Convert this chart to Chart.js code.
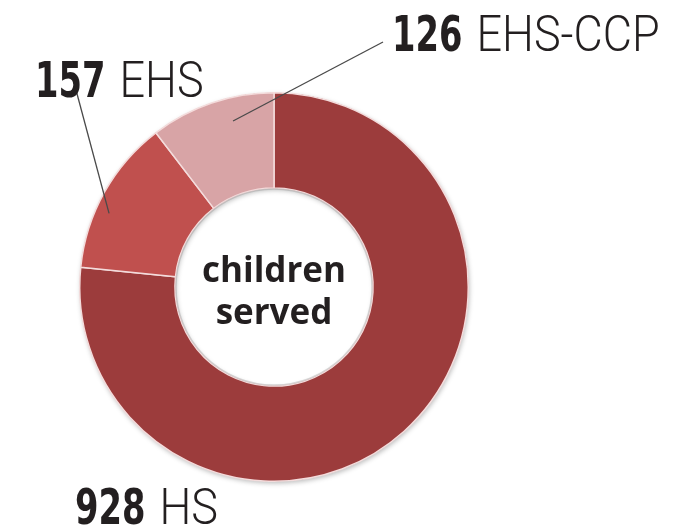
<!DOCTYPE html>
<html>
<head>
<meta charset="utf-8">
<script src="https://cdn.jsdelivr.net/npm/chart.js@4/dist/chart.umd.min.js"></script>
<style>
html,body{margin:0;padding:0;background:#fff;}
#wrap{width:692px;height:530px;position:relative;}
</style>
</head>
<body>
<div id="wrap"><canvas id="c" width="692" height="530"></canvas></div>
<script>
const categories = ['HS', 'EHS', 'EHS-CCP'];
const childrenServed = [928, 157, 126];
const centerLines = ['children', 'served'];
const sliceColors = ['#9c3c3c', '#c0504e', '#d8a4a6'];

// label placement (pixels) and leader anchors (fraction along slice, fraction of outer radius)
const labelPlacement = [
  { x: 75, y: 524, leader: null },
  { x: 35, y: 97, lineStart: [76, 90], leader: [0.39, 0.93] },
  { x: 392, y: 51, lineStart: [383, 42], leader: [0.63, 0.88] }
];

const NUM_FONT = 'bold 50px "DejaVu Sans Condensed", "DejaVu Sans", sans-serif';
const NAME_FONT = '300 50px Roboto, "Liberation Sans", sans-serif';
const NUM_SCALE = 0.75;
const NAME_SCALE = 0.9;

function drawScaled(ctx, text, x, y, font, sx) {
  ctx.save();
  ctx.font = font;
  ctx.translate(x, y);
  ctx.scale(sx, 1);
  ctx.fillText(text, 0, 0);
  const w = ctx.measureText(text).width * sx;
  ctx.restore();
  return w;
}

function drawLabel(ctx, num, name, x, y) {
  ctx.save();
  ctx.textBaseline = 'alphabetic';
  ctx.textAlign = 'left';
  ctx.fillStyle = '#231f20';
  const w = drawScaled(ctx, String(num), x, y, NUM_FONT, NUM_SCALE);
  drawScaled(ctx, name, x + w + 14, y, NAME_FONT, NAME_SCALE);
  ctx.restore();
}

const overlay = {
  id: 'overlay',
  beforeDatasetsDraw(chart) {
    const ctx = chart.ctx;
    const arc = chart.getDatasetMeta(0).data[0];
    ctx.save();
    ctx.shadowColor = 'rgba(0,0,0,0.28)';
    ctx.shadowBlur = 5;
    ctx.shadowOffsetX = 1;
    ctx.shadowOffsetY = 2;
    ctx.beginPath();
    ctx.arc(arc.x, arc.y, arc.outerRadius, 0, Math.PI * 2, false);
    ctx.arc(arc.x, arc.y, arc.innerRadius, 0, Math.PI * 2, true);
    ctx.closePath();
    ctx.fillStyle = '#9c3c3c';
    ctx.fill('evenodd');
    ctx.restore();
  },
  afterDraw(chart) {
    const ctx = chart.ctx;
    const meta = chart.getDatasetMeta(0);
    const a0 = meta.data[0];
    // subtle shadow on inner edge
    ctx.save();
    ctx.beginPath();
    ctx.arc(a0.x, a0.y, a0.innerRadius - 1, 0, Math.PI * 2);
    ctx.strokeStyle = 'rgba(150,150,150,0.35)';
    ctx.lineWidth = 1.5;
    ctx.stroke();
    ctx.restore();

    // center text
    ctx.save();
    ctx.fillStyle = '#231f20';
    ctx.textAlign = 'center';
    ctx.textBaseline = 'alphabetic';
    ctx.font = 'bold 35px "Open Sans", "DejaVu Sans", sans-serif';
    ctx.fillText(centerLines[0], a0.x, a0.y - 5);
    ctx.fillText(centerLines[1], a0.x, a0.y + 37);
    ctx.restore();

    // leader lines and labels
    categories.forEach((cat, i) => {
      const p = labelPlacement[i];
      if (p.leader) {
        const el = meta.data[i];
        const ang = el.startAngle + (el.endAngle - el.startAngle) * p.leader[0];
        const r = el.outerRadius * p.leader[1];
        const ex = el.x + Math.cos(ang) * r;
        const ey = el.y + Math.sin(ang) * r;
        ctx.save();
        ctx.strokeStyle = '#4a4a4a';
        ctx.lineWidth = 1.3;
        ctx.beginPath();
        ctx.moveTo(p.lineStart[0], p.lineStart[1]);
        ctx.lineTo(ex, ey);
        ctx.stroke();
        ctx.restore();
      }
      drawLabel(ctx, childrenServed[i], cat, p.x, p.y);
    });
  }
};

new Chart(document.getElementById('c'), {
  type: 'doughnut',
  data: {
    labels: categories,
    datasets: [{
      data: childrenServed,
      backgroundColor: sliceColors,
      borderColor: '#f4dcdc',
      borderWidth: 1.5,
      hoverOffset: 0
    }]
  },
  options: {
    responsive: false,
    animation: false,
    cutout: '51%',
    rotation: 0,
    layout: { padding: { left: 79, right: 223, top: 92, bottom: 48 } },
    plugins: {
      legend: { display: false },
      tooltip: { enabled: false }
    }
  },
  plugins: [overlay]
});
</script>
</body>
</html>
